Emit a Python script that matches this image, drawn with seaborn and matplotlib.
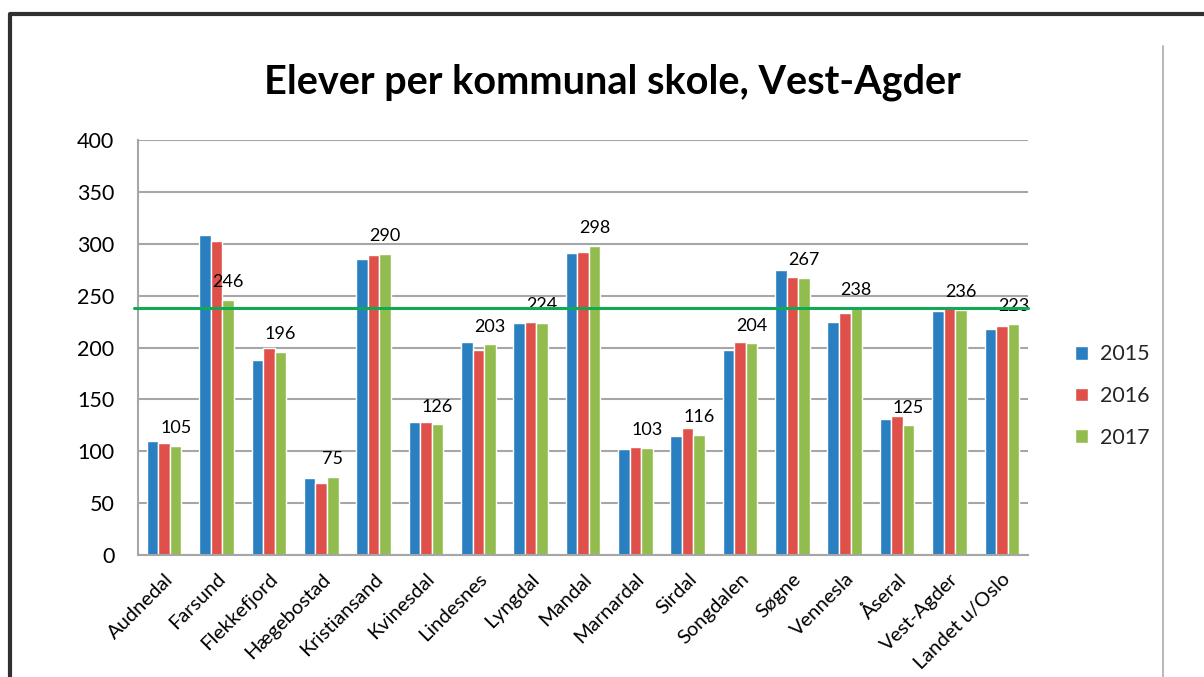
import matplotlib
matplotlib.use("Agg")
import matplotlib.pyplot as plt
import seaborn as sns
import pandas as pd
from matplotlib.lines import Line2D
from matplotlib.patches import Patch

categories = ["Audnedal", "Farsund", "Flekkefjord", "Hægebostad", "Kristiansand",
              "Kvinesdal", "Lindesnes", "Lyngdal", "Mandal", "Marnardal", "Sirdal",
              "Songdalen", "Søgne", "Vennesla", "Åseral", "Vest-Agder", "Landet u/Oslo"]
years = ["2015", "2016", "2017"]
v2015 = [110, 308, 188, 74, 285, 128, 205, 224, 291, 102, 115, 198, 275, 225, 131, 235, 218]
v2016 = [108, 303, 200, 69, 289, 128, 198, 225, 292, 104, 122, 205, 268, 233, 134, 238, 221]
v2017 = [105, 246, 196, 75, 290, 126, 203, 224, 298, 103, 116, 204, 267, 238, 125, 236, 223]
reference_line = 238
title = "Elever per kommunal skole, Vest-Agder"
yticks = [0, 50, 100, 150, 200, 250, 300, 350, 400]

colors = ["#2A7FC1", "#E0504A", "#92BD4E"]

df = pd.DataFrame({
    "kommune": categories * 3,
    "år": [years[0]] * len(categories) + [years[1]] * len(categories) + [years[2]] * len(categories),
    "elever": v2015 + v2016 + v2017,
})

sns.set_style("white")
plt.rcParams["font.family"] = ["Lato", "DejaVu Sans"]

fig = plt.figure(figsize=(12.04, 6.77), dpi=100)
ax = fig.add_axes([138 / 1204, 1 - 555 / 677, (1028 - 138) / 1204, (555 - 140) / 677])

sns.barplot(data=df, x="kommune", y="elever", hue="år", palette=colors,
            width=0.66, edgecolor="white", linewidth=1, ax=ax, legend=False,
            saturation=1)

ax.set_ylim(0, 400)
ax.set_xlim(-0.5, len(categories) - 0.5)
ax.set_yticks(yticks)
ax.set_yticklabels([str(t) for t in yticks], fontsize=15.5, color="black")
ax.tick_params(axis="y", length=0, pad=17)
ax.tick_params(axis="x", length=0, pad=11)
ax.set_xticks(range(len(categories)))
ax.set_xticklabels(categories, rotation=45, ha="right", rotation_mode="anchor",
                   fontsize=14.5, color="black")
ax.set_xlabel("")
ax.set_ylabel("")
ax.yaxis.grid(True, color="#A6A6A6", linewidth=1.5)
ax.set_axisbelow(True)
for s in ["top", "right"]:
    ax.spines[s].set_visible(False)
for s in ["left", "bottom"]:
    ax.spines[s].set_color("#A6A6A6")
    ax.spines[s].set_linewidth(1.5)

# data labels for 2017
green_bars = ax.containers[2]
for bar, val in zip(green_bars, v2017):
    ax.annotate(str(val), (bar.get_x() + bar.get_width() / 2, bar.get_height()),
                xytext=(0, 7), textcoords="offset points", ha="center", va="bottom",
                fontsize=13, color="black")

ax.axhline(reference_line, xmin=-0.005, xmax=1.0, color="#12A955", linewidth=2.2,
           clip_on=False, zorder=5)

fig.text(612 / 1204, 1 - 82 / 677, title, ha="center", va="center",
         fontsize=28.5, fontweight="bold", color="black")

handles = [Patch(facecolor=c, edgecolor="white") for c in colors]
fig.legend(handles, years, loc="center left", bbox_to_anchor=(1066 / 1204, 1 - 396 / 677),
           frameon=False, fontsize=15.5, handlelength=0.6, handleheight=0.6,
           handletextpad=0.6, labelspacing=1.0, borderaxespad=0)

# slide border and separator
fig.add_artist(Line2D([10 / 1204, 10 / 1204, 1.0], [0.0, 1 - 14 / 677, 1 - 14 / 677],
                      color="#303030", linewidth=3, transform=fig.transFigure))
fig.add_artist(Line2D([1163 / 1204, 1163 / 1204], [0.0, 1 - 46 / 677],
                      color="#AAAAAA", linewidth=1.2, transform=fig.transFigure))

fig.savefig("out.png", dpi=100)
